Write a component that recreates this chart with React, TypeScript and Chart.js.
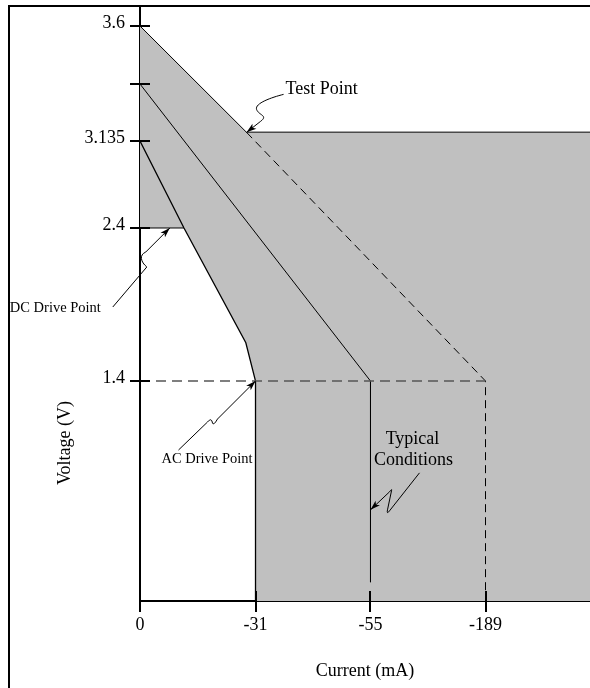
import React, { useEffect, useRef } from 'react';
import { Chart, registerables, LinearScale } from 'chart.js';

Chart.register(...registerables);

// ---------------- data (current in mA, voltage in V) ----------------
const currentTicks = [0, -31, -55, -189];
const currentTickLabels = ['0', '-31', '-55', '-189'];
const voltageTicks = [1.4, 2.4, 3.135, 3.3, 3.6];
const voltageTickLabels = ['1.4', '2.4', '3.135', '', '3.6'];

const currentMin = -260;
const currentMax = 0;
const voltageMin = 0;
const voltageMax = 3.7;

// shaded operating region (closed outline)
const regionCurrent = [0, -28.6, -260, -260, -31, -31, -28.4, -11.8, 0];
const regionVoltage = [3.6, 3.16, 3.16, 0, 0, 1.4, 1.65, 2.4, 2.4];

// upper edge of the region beyond the test point
const regionTopCurrent = [-28.6, -260];
const regionTopVoltage = [3.16, 3.16];

// upper limit curve: solid to the test point, dashed beyond
const upperSolidCurrent = [0, -28.6];
const upperSolidVoltage = [3.6, 3.16];
const upperDashedCurrent = [-28.6, -189, -189];
const upperDashedVoltage = [3.16, 1.4, 0];

// typical conditions curve
const typicalCurrent = [0, -55, -55];
const typicalVoltage = [3.3, 1.4, 0.12];

// lower limit curve
const lowerCurrent = [0, -11.8, -28.4, -31, -31];
const lowerVoltage = [3.135, 2.4, 1.65, 1.4, 0];

// DC drive level and AC drive level
const dcLevelCurrent = [0, -11.8];
const dcLevelVoltage = [2.4, 2.4];
const acLevelCurrent = [0, -189];
const acLevelVoltage = [1.4, 1.4];

// annotation anchor points [current, voltage]
const testPoint = [-28.6, 3.16];
const dcDrivePoint = [-8, 2.4];
const acDrivePoint = [-31, 1.4];
const typicalPoint = [-55, 0.58];

// ---------------- schematic (non-linear) axis layout ----------------
const SCALE_KNOTS: Record<string, number[][]> = {
  x: [[-260, 1], [-189, 0.7678], [-55, 0.5122], [-31, 0.2567], [0, 0]],
  y: [[0, 0], [1.4, 0.3697], [2.4, 0.6269], [3.135, 0.7731], [3.3, 0.8689], [3.6, 0.9664], [3.7, 1]],
};

function interp(knots: number[][], v: number, from: number, to: number) {
  const k = [...knots].sort((a, b) => a[from] - b[from]);
  let i = 0;
  while (i < k.length - 2 && v > k[i + 1][from]) i++;
  const a = k[i], b = k[i + 1];
  const t = (v - a[from]) / (b[from] - a[from]);
  return a[to] + t * (b[to] - a[to]);
}

class PiecewiseScale extends LinearScale {
  static id = 'piecewise';
  static defaults = {};
  getPixelForValue(value: any) {
    if (value === null || value === undefined || isNaN(value)) return NaN;
    return this.getPixelForDecimal(interp(SCALE_KNOTS[(this as any).id], value, 0, 1));
  }
  getValueForPixel(pixel: number) {
    return interp(SCALE_KNOTS[(this as any).id], this.getDecimalForPixel(pixel), 1, 0);
  }
}
Chart.register(PiecewiseScale as any);

const FONT = "'Liberation Serif', 'Times New Roman', serif";

const pts = (cs: number[], vs: number[]) => cs.map((c, i) => ({ x: c, y: vs[i] }));

function arrowHead(ctx: CanvasRenderingContext2D, fx: number, fy: number, tx: number, ty: number) {
  const ang = Math.atan2(ty - fy, tx - fx);
  const len = 10, hw = 3.2;
  ctx.beginPath();
  ctx.moveTo(tx, ty);
  ctx.lineTo(tx - len * Math.cos(ang) + hw * Math.sin(ang), ty - len * Math.sin(ang) - hw * Math.cos(ang));
  ctx.lineTo(tx - len * Math.cos(ang) * 0.75, ty - len * Math.sin(ang) * 0.75);
  ctx.lineTo(tx - len * Math.cos(ang) - hw * Math.sin(ang), ty - len * Math.sin(ang) + hw * Math.cos(ang));
  ctx.closePath();
  ctx.fill();
}

const annotationPlugin = {
  id: 'viAnnotations',
  afterDatasetsDraw(chart: any) {
    const { ctx, chartArea } = chart;
    const xs = chart.scales.x;
    const ys = chart.scales.y;
    const P = (p: number[]) => [xs.getPixelForValue(p[0]), ys.getPixelForValue(p[1])];
    ctx.save();
    ctx.strokeStyle = '#000';
    ctx.fillStyle = '#000';

    // crossing tick marks
    ctx.lineWidth = 2;
    voltageTicks.forEach((v) => {
      const py = Math.round(ys.getPixelForValue(v));
      ctx.beginPath();
      ctx.moveTo(chartArea.left - 10, py);
      ctx.lineTo(chartArea.left + 10, py);
      ctx.stroke();
    });
    currentTicks.forEach((c) => {
      const px = Math.round(xs.getPixelForValue(c));
      ctx.beginPath();
      ctx.moveTo(px, chartArea.bottom - 10);
      ctx.lineTo(px, chartArea.bottom + 11);
      ctx.stroke();
    });

    ctx.lineWidth = 1;
    ctx.lineJoin = 'round';

    // Test Point
    {
      const [tx, ty] = P(testPoint);
      ctx.beginPath();
      ctx.moveTo(tx + 37, ty - 38);
      ctx.bezierCurveTo(tx + 25, ty - 35, tx + 8, ty - 29, tx + 10, ty - 23);
      ctx.bezierCurveTo(tx + 12, ty - 17, tx + 22, ty - 17, tx + 14, ty - 11);
      ctx.lineTo(tx, ty);
      ctx.stroke();
      arrowHead(ctx, tx + 14, ty - 11, tx, ty);
      ctx.font = `18px ${FONT}`;
      ctx.textAlign = 'left';
      ctx.textBaseline = 'alphabetic';
      ctx.fillText('Test Point', tx + 39, ty - 38);
    }

    // DC Drive Point
    {
      const [tx, ty] = P(dcDrivePoint);
      ctx.beginPath();
      ctx.moveTo(tx - 57, ty + 79);
      ctx.lineTo(tx - 23, ty + 39);
      ctx.bezierCurveTo(tx - 29, ty + 34, tx - 31, ty + 27, tx - 24, ty + 24);
      ctx.lineTo(tx, ty);
      ctx.stroke();
      arrowHead(ctx, tx - 24, ty + 24, tx, ty);
      ctx.font = `14.5px ${FONT}`;
      ctx.textAlign = 'left';
      ctx.fillText('DC Drive Point', tx - 160, ty + 84);
    }

    // AC Drive Point
    {
      const [tx, ty] = P(acDrivePoint);
      ctx.beginPath();
      ctx.moveTo(tx - 77, ty + 69);
      ctx.lineTo(tx - 48, ty + 41);
      ctx.quadraticCurveTo(tx - 44, ty + 36, tx - 43, ty + 42);
      ctx.quadraticCurveTo(tx - 42, ty + 45, tx - 38, ty + 38);
      ctx.lineTo(tx, ty);
      ctx.stroke();
      arrowHead(ctx, tx - 38, ty + 38, tx, ty);
      ctx.font = `14.5px ${FONT}`;
      ctx.textAlign = 'left';
      ctx.fillText('AC Drive Point', tx - 94, ty + 82);
    }

    // Typical Conditions
    {
      const [tx, ty] = P(typicalPoint);
      ctx.beginPath();
      ctx.moveTo(tx + 49, ty - 37);
      ctx.lineTo(tx + 19, ty + 1);
      ctx.quadraticCurveTo(tx + 16, ty + 5, tx + 17, ty);
      ctx.lineTo(tx + 21, ty - 19);
      ctx.quadraticCurveTo(tx + 22, ty - 22, tx + 19, ty - 18);
      ctx.lineTo(tx, ty);
      ctx.stroke();
      arrowHead(ctx, tx + 19, ty - 18, tx, ty);
      ctx.font = `18px ${FONT}`;
      ctx.textAlign = 'center';
      ctx.fillText('Typical', tx + 42, ty - 66);
      ctx.fillText('Conditions', tx + 43, ty - 45);
    }

    // axis titles
    ctx.font = `18px ${FONT}`;
    ctx.textAlign = 'center';
    ctx.textBaseline = 'alphabetic';
    ctx.fillText('Current (mA)', (chartArea.left + chartArea.right) / 2, chartArea.bottom + 75);
    ctx.save();
    ctx.translate(chartArea.left - 70, chartArea.top + 437);
    ctx.rotate(-Math.PI / 2);
    ctx.fillText('Voltage (V)', 0, 0);
    ctx.restore();

    ctx.restore();
  },
};

export default function App() {
  const canvasRef = useRef<HTMLCanvasElement | null>(null);

  useEffect(() => {
    const canvas = canvasRef.current;
    if (!canvas) return;
    const line = (data: any[], extra: any = {}) => ({
      type: 'line',
      data,
      borderColor: '#000',
      borderWidth: 1,
      pointRadius: 0,
      fill: false,
      tension: 0,
      order: 1,
      ...extra,
    });

    const chart = new Chart(canvas, {
      type: 'line',
      data: {
        datasets: [
          line(pts(acLevelCurrent, acLevelVoltage), { borderColor: '#555', borderWidth: 1.5, borderDash: [10, 6] }),
          line(pts(upperSolidCurrent, upperSolidVoltage)),
          line(pts(upperDashedCurrent, upperDashedVoltage), { borderDash: [8, 5] }),
          line(pts(typicalCurrent, typicalVoltage)),
          line(pts(lowerCurrent, lowerVoltage), { borderWidth: 1.3 }),
          line(pts(dcLevelCurrent, dcLevelVoltage)),
          line(pts(regionTopCurrent, regionTopVoltage), { borderColor: '#4a4a4a', borderWidth: 1.5 }),
          line(pts(regionCurrent, regionVoltage), {
            borderWidth: 0,
            borderColor: 'rgba(0,0,0,0)',
            backgroundColor: '#c0c0c0',
            fill: 'shape',
            order: 10,
          }),
        ] as any,
      },
      options: {
        animation: false,
        responsive: false,
        maintainAspectRatio: false,
        devicePixelRatio: 1,
        events: [],
        layout: { padding: { top: 6, left: 0, right: 0, bottom: 0 } },
        plugins: { legend: { display: false }, tooltip: { enabled: false }, title: { display: false } },
        scales: {
          x: {
            type: 'piecewise' as any,
            min: currentMin,
            max: currentMax,
            z: 1,
            grid: { display: false, drawTicks: false },
            border: { display: true, color: '#000', width: 2 },
            ticks: {
              autoSkip: false,
              maxRotation: 0,
              padding: 13,
              color: '#000',
              font: { family: FONT, size: 18 },
              callback: (_v: any, i: number) => currentTickLabels[i],
            },
            afterBuildTicks: (s: any) => {
              s.ticks = currentTicks.map((v) => ({ value: v }));
            },
            afterFit: (s: any) => {
              s.height = 87;
              s.paddingLeft = 0;
              s.paddingRight = 0;
            },
          },
          y: {
            type: 'piecewise' as any,
            min: voltageMin,
            max: voltageMax,
            z: 1,
            grid: { display: false, drawTicks: false },
            border: { display: true, color: '#000', width: 2 },
            ticks: {
              autoSkip: false,
              padding: 15,
              labelOffset: -3,
              color: '#000',
              font: { family: FONT, size: 18 },
              callback: (_v: any, i: number) => voltageTickLabels[i],
            },
            afterBuildTicks: (s: any) => {
              s.ticks = voltageTicks.map((v) => ({ value: v }));
            },
            afterFit: (s: any) => {
              s.width = 140;
              s.paddingTop = 0;
              s.paddingBottom = 0;
            },
          },
        },
      } as any,
      plugins: [annotationPlugin as any],
    });
    return () => chart.destroy();
  }, []);

  return (
    <div style={{ position: 'fixed', left: 0, top: 0, width: 590, height: 688, background: '#fff', overflow: 'hidden' }}>
      <canvas ref={canvasRef} width={590} height={688} style={{ display: 'block', position: 'absolute', left: 0, top: 0 }} />
      <div
        style={{
          position: 'absolute',
          left: 8,
          top: 5,
          width: 700,
          height: 800,
          borderLeft: '2px solid #000',
          borderTop: '2px solid #000',
          pointerEvents: 'none',
        }}
      />
    </div>
  );
}
